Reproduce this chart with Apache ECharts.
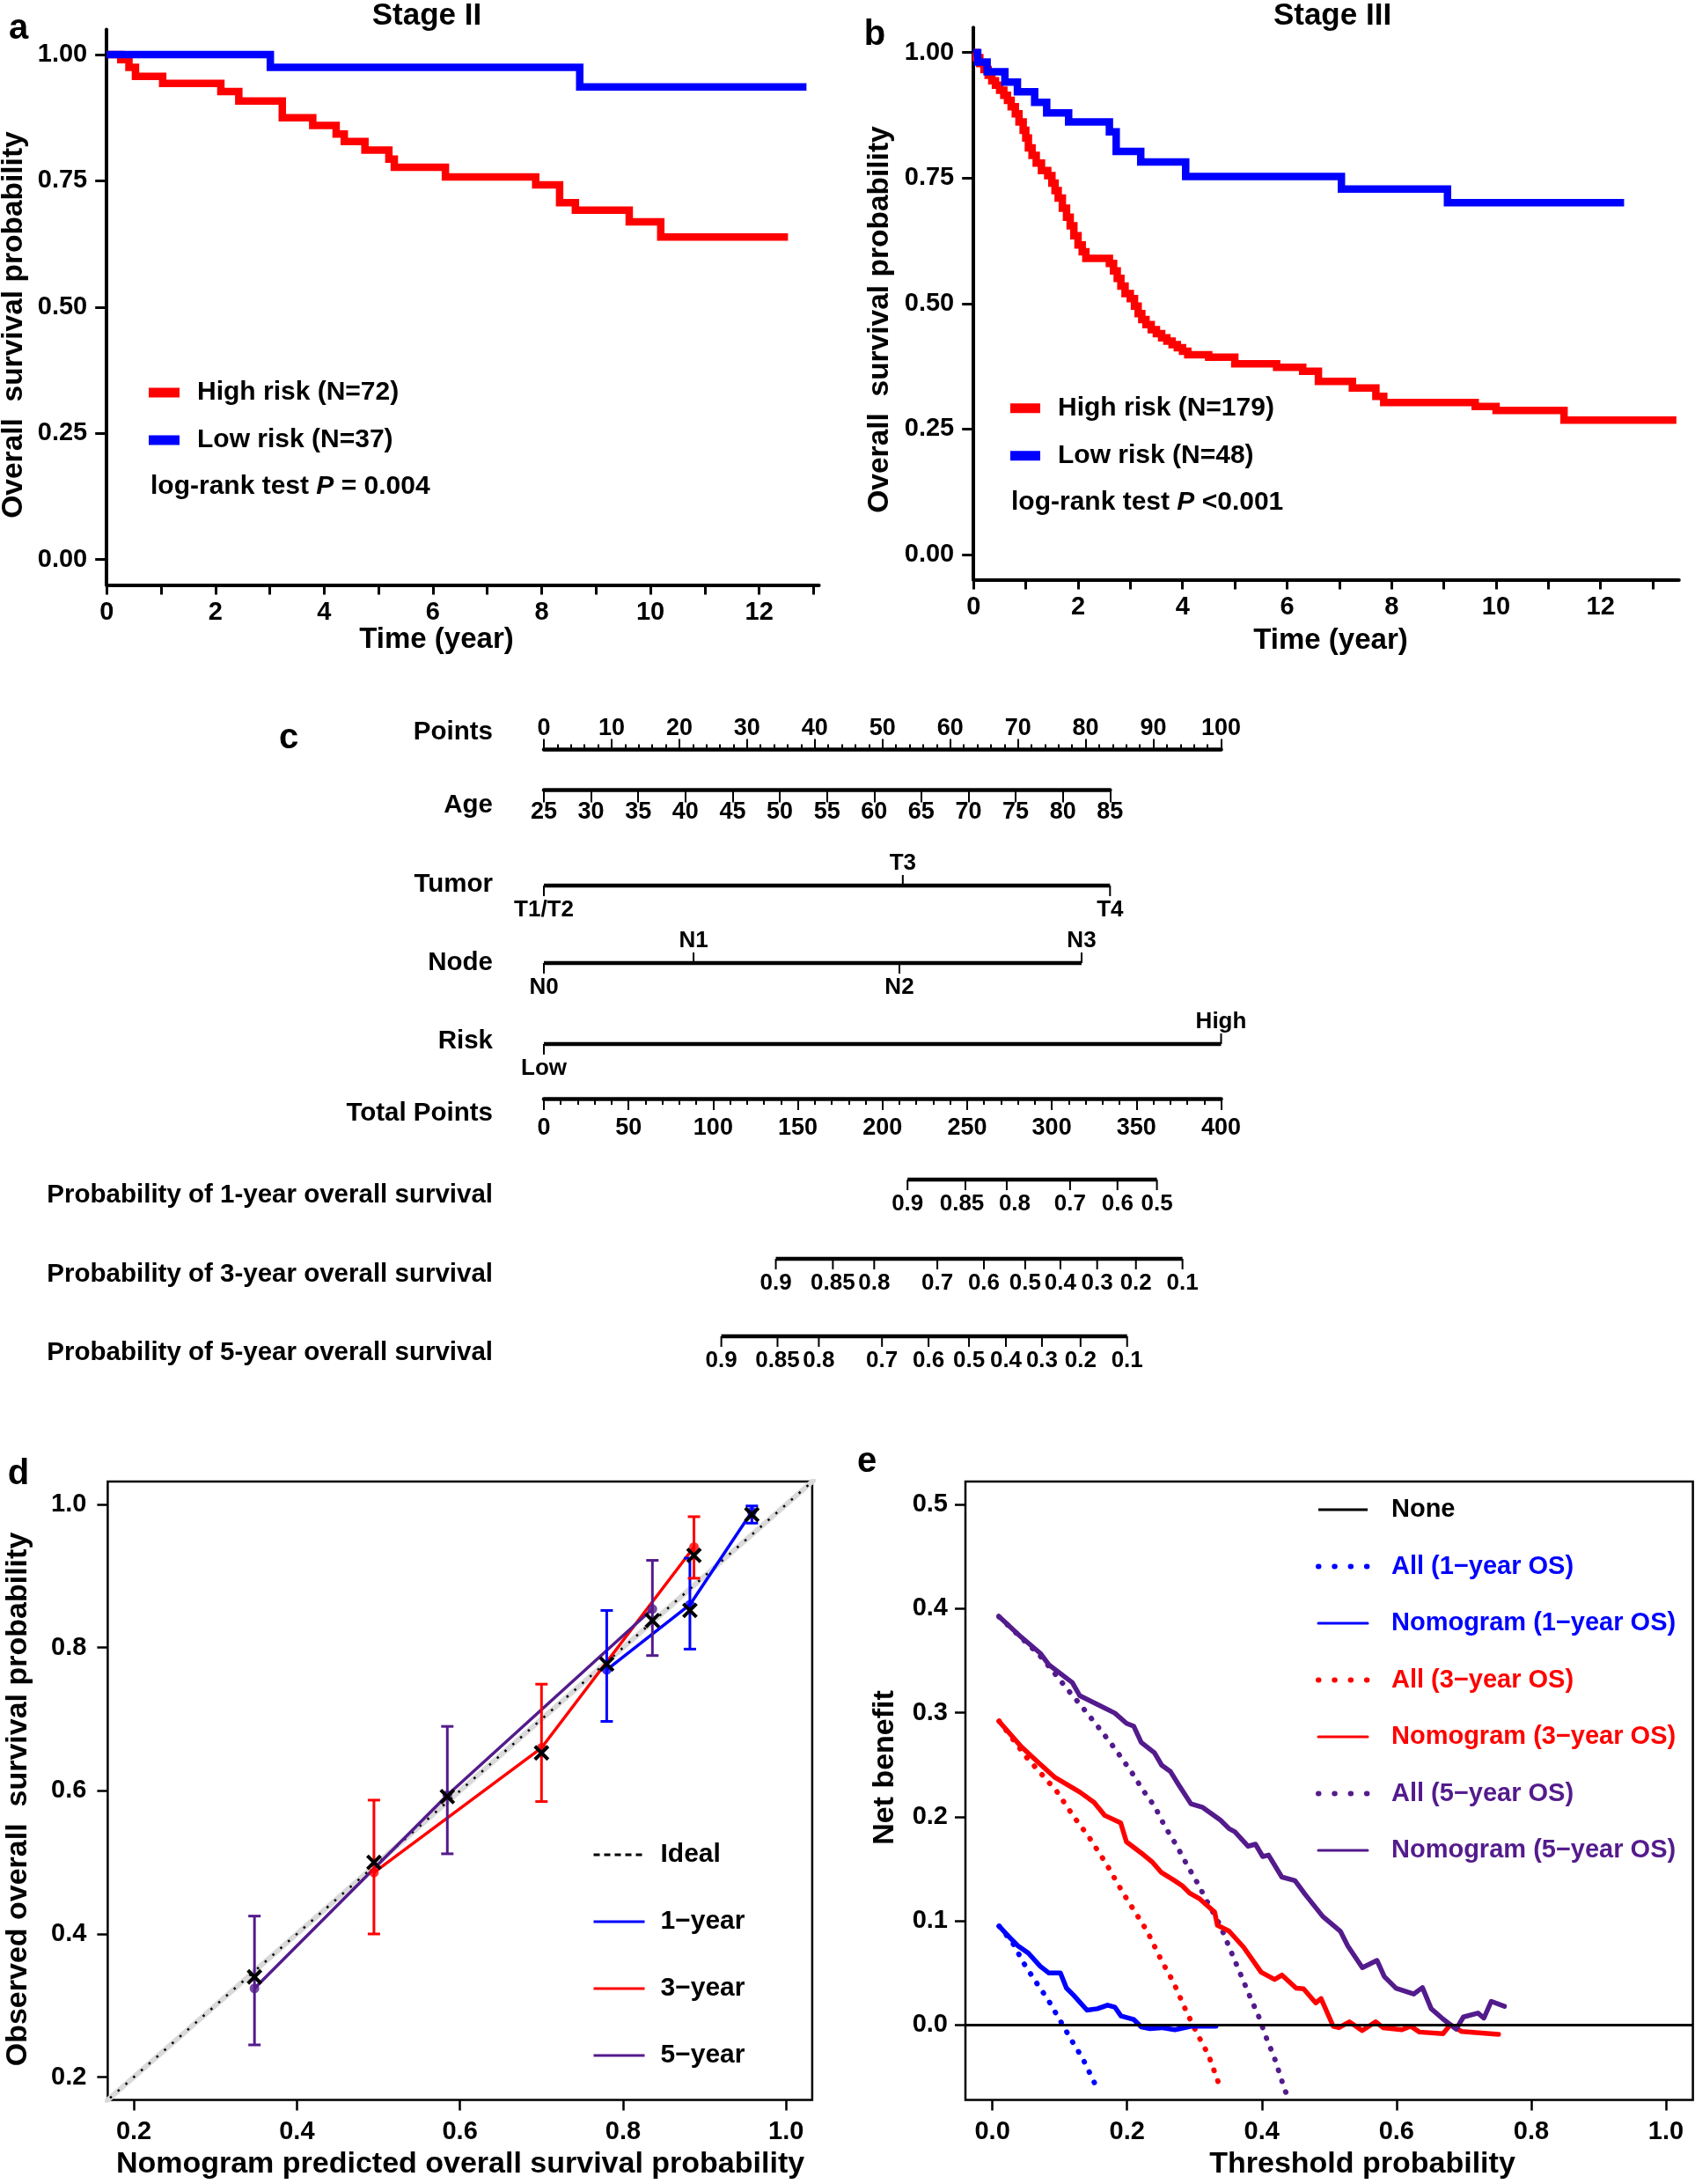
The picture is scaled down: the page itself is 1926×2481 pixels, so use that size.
<!DOCTYPE html>
<html><head><meta charset="utf-8">
<script src="https://cdn.jsdelivr.net/npm/echarts@6/dist/echarts.min.js"></script>
<style>html,body{margin:0;padding:0;background:#fff}#c{width:1926px;height:2481px}</style>
</head><body><div id="c"></div>
<script>
const FONT = "'Liberation Sans', Arial, Helvetica, sans-serif";
const BLUE = '#0000FF', RED = '#FF0000', PURPLE = '#531B8C';

// ---------- Panel a: Stage II ----------
const aHighTime = [0, 0.26, 0.41, 0.53, 1.03, 2.10, 2.43, 3.23, 3.79, 4.22, 4.37, 4.75, 5.19, 5.29, 6.23, 7.89, 8.33, 8.62, 9.61, 10.19, 12.53];
const aHighSurv = [1.0, 0.99, 0.975, 0.957, 0.943, 0.927, 0.908, 0.875, 0.86, 0.843, 0.828, 0.811, 0.793, 0.777, 0.758, 0.742, 0.707, 0.692, 0.669, 0.639, 0.639];
const aLowTime = [0, 3.01, 8.70, 12.87];
const aLowSurv = [1.0, 0.975, 0.936, 0.936];

// ---------- Panel b: Stage III ----------
const bHighTime = [0, 0.05, 0.12, 0.2, 0.28, 0.35, 0.42, 0.5, 0.58, 0.65, 0.72, 0.8, 0.87, 0.95, 1.0, 1.05, 1.12, 1.2, 1.3, 1.42, 1.5, 1.56, 1.62, 1.7, 1.78, 1.85, 1.92, 2.0, 2.08, 2.15, 2.6, 2.68, 2.75, 2.82, 2.9, 3.0, 3.08, 3.15, 3.22, 3.3, 3.4, 3.5, 3.6, 3.7, 3.8, 3.9, 4.0, 4.1, 4.5, 5.0, 5.8, 6.3, 6.6, 7.25, 7.7, 7.85, 9.6, 10.0, 11.3, 13.45];
const bHighSurv = [1.0, 0.99, 0.978, 0.966, 0.955, 0.944, 0.935, 0.925, 0.915, 0.905, 0.892, 0.878, 0.862, 0.845, 0.83, 0.81, 0.795, 0.78, 0.765, 0.755, 0.74, 0.725, 0.71, 0.69, 0.672, 0.655, 0.635, 0.617, 0.603, 0.59, 0.58, 0.565, 0.55, 0.535, 0.52, 0.51, 0.495, 0.48, 0.468, 0.458, 0.448, 0.44, 0.432, 0.425, 0.418, 0.412, 0.405, 0.398, 0.393, 0.38, 0.373, 0.365, 0.345, 0.332, 0.315, 0.303, 0.295, 0.287, 0.268, 0.268];
const bLowTime = [0, 0.08, 0.26, 0.6, 0.84, 1.17, 1.4, 1.82, 2.6, 2.73, 3.2, 4.06, 7.04, 9.07, 12.45];
const bLowSurv = [1.0, 0.981, 0.962, 0.941, 0.922, 0.901, 0.880, 0.862, 0.842, 0.803, 0.782, 0.753, 0.728, 0.701, 0.701];

const kmTickTimes = [0,1,2,3,4,5,6,7,8,9,10,11,12,13];
const kmLabelTimes = [0,2,4,6,8,10,12];
const kmTickSurv = [0, 0.25, 0.5, 0.75, 1.0];

// ---------- Panel c: nomogram ----------
const pointsRange = [0, 100], pointsStep = 10;
const ageRange = [25, 85], ageStep = 5, ageMaxPoints = 83.6;
const tumorLabels = ['T1/T2', 'T3', 'T4'];
const tumorPoints = [0, 53.0, 83.6];
const tumorSide = [1, -1, 1];
const nodeLabels = ['N0', 'N1', 'N2', 'N3'];
const nodePoints = [0, 22.1, 52.5, 79.4];
const nodeSide = [1, -1, 1, -1];
const riskLabels = ['Low', 'High'];
const riskPoints = [0, 100];
const riskSide = [1, -1];
const totalRange = [0, 400], totalStep = 50;
const prob1Labels = ['0.9', '0.85', '0.8', '0.7', '0.6', '0.5'];
const prob1Points = [214.8, 249.0, 273.4, 310.8, 338.8, 362.1];
const prob1Nudge = [0, -4, 9, 0, 0, 0];
const prob3Labels = ['0.9', '0.85', '0.8', '0.7', '0.6', '0.5', '0.4', '0.3', '0.2', '0.1'];
const prob3Points = [137.0, 170.7, 195.1, 232.4, 259.9, 284.3, 305.1, 326.8, 349.7, 377.2];
const prob5Labels = ['0.9', '0.85', '0.8', '0.7', '0.6', '0.5', '0.4', '0.3', '0.2', '0.1'];
const prob5Points = [104.8, 138.0, 162.4, 199.7, 227.2, 251.1, 272.9, 294.2, 317.0, 344.5];

// ---------- Panel d: calibration ----------
const calTicks = [0.2, 0.4, 0.6, 0.8, 1.0];
const idealLine = [[0, 0], [1.2, 1.2]];
const cal1Pred = [0.780, 0.882, 0.958], cal1Obs = [0.769, 0.860, 0.990], cal1Lo = [0.697, 0.798, 0.974], cal1Hi = [0.852, 0.925, 0.998], cal1Corr = [0.777, 0.852, 0.986];
const cal3Pred = [0.4945, 0.700, 0.887], cal3Obs = [0.486, 0.660, 0.9405], cal3Lo = [0.400, 0.585, 0.897], cal3Hi = [0.587, 0.749, 0.983], cal3Corr = [0.500, 0.653, 0.929];
const cal5Pred = [0.348, 0.5845, 0.836], cal5Obs = [0.324, 0.594, 0.854], cal5Lo = [0.245, 0.512, 0.789], cal5Hi = [0.425, 0.690, 0.922], cal5Corr = [0.340, 0.592, 0.838];

// ---------- Panel e: decision curves ----------
const dcaXTicks = [0, 0.2, 0.4, 0.6, 0.8, 1.0];
const dcaYTicks = [0, 0.1, 0.2, 0.3, 0.4, 0.5];
const allOS1 = [[0.010,0.095],[0.030,0.079],[0.047,0.059],[0.064,0.042],[0.083,0.024],[0.100,0.005],[0.117,-0.014],[0.134,-0.032],[0.149,-0.052],[0.157,-0.063]];
const allOS3 = [[0.010,0.292],[0.051,0.257],[0.095,0.225],[0.121,0.200],[0.143,0.181],[0.169,0.155],[0.193,0.128],[0.212,0.1085],[0.230,0.090],[0.251,0.062],[0.269,0.041],[0.288,0.013],[0.303,-0.007],[0.321,-0.029],[0.336,-0.056]];
const allOS5 = [[0.010,0.392],[0.069,0.356],[0.091,0.339],[0.112,0.322],[0.134,0.305],[0.155,0.288],[0.175,0.2715],[0.194,0.2546],[0.212,0.2378],[0.221,0.228],[0.241,0.210],[0.256,0.191],[0.273,0.173],[0.288,0.155],[0.304,0.137],[0.321,0.116],[0.338,0.096],[0.356,0.068],[0.369,0.048],[0.382,0.028],[0.395,0.009],[0.406,-0.011],[0.419,-0.032],[0.434,-0.062],[0.441,-0.0725]];
const nom1 = [[0.010,0.095],[0.025,0.0846],[0.038,0.0761],[0.0535,0.0691],[0.071,0.0565],[0.084,0.050],[0.101,0.050],[0.110,0.0354],[0.121,0.0284],[0.1405,0.0143],[0.156,0.0157],[0.171,0.0191],[0.182,0.0171],[0.191,0.0087],[0.210,0.0053],[0.221,-0.0017],[0.234,-0.0034],[0.251,-0.0025],[0.271,-0.0045],[0.295,-0.0011],[0.332,-0.0011]];
const nom3 = [[0.010,0.2917],[0.043,0.2673],[0.069,0.2518],[0.093,0.2378],[0.130,0.2237],[0.151,0.2139],[0.167,0.2013],[0.1905,0.1942],[0.199,0.176],[0.221,0.1653],[0.238,0.1562],[0.251,0.1465],[0.269,0.1394],[0.282,0.1338],[0.293,0.1267],[0.308,0.1211],[0.330,0.1085],[0.334,0.0959],[0.3515,0.0902],[0.373,0.0748],[0.399,0.0508],[0.419,0.0438],[0.430,0.048],[0.451,0.0354],[0.462,0.0348],[0.480,0.0213],[0.488,0.0255],[0.506,-0.0011],[0.5145,-0.0025],[0.530,0.0031],[0.549,-0.0053],[0.569,0.0031],[0.580,-0.0025],[0.608,-0.0045],[0.621,-0.0011],[0.634,-0.0067],[0.669,-0.0082],[0.680,0.0003],[0.697,-0.0062],[0.7515,-0.009]];
const nom5 = [[0.0094,0.3928],[0.0427,0.3727],[0.071,0.3572],[0.084,0.346],[0.1187,0.329],[0.1297,0.3164],[0.160,0.3067],[0.1819,0.2996],[0.1992,0.2898],[0.210,0.287],[0.221,0.2715],[0.2406,0.2616],[0.2514,0.2496],[0.2645,0.2434],[0.2753,0.2321],[0.2948,0.2125],[0.3123,0.2091],[0.3384,0.197],[0.3515,0.1886],[0.360,0.1857],[0.3797,0.1718],[0.3906,0.1737],[0.4014,0.1619],[0.410,0.1633],[0.4297,0.1422],[0.4493,0.1388],[0.4645,0.1254],[0.4906,0.1043],[0.5166,0.0902],[0.5276,0.0761],[0.5493,0.0551],[0.571,0.0621],[0.5819,0.0466],[0.5993,0.0354],[0.6254,0.0298],[0.6385,0.036],[0.6515,0.0157],[0.6689,0.0059],[0.6885,-0.004],[0.6993,0.0078],[0.721,0.0115],[0.7298,0.0067],[0.7406,0.0228],[0.7602,0.018]];

// ================= build =================
const zip = (xs, ys) => xs.map((x, i) => [x, ys[i]]);
const lbl = (size, extra) => Object.assign({fontSize: size, fontWeight: 'bold', color: '#000', fontFamily: FONT}, extra || {});
const NOMO_LEFT = 618, NOMO_W = 769.5;

const grids = [
  {left: 121.2, top: 33.4, width: 809.4, height: 631},                 // 0 a
  {left: 1106.2, top: 31.2, width: 801.6, height: 627.3},              // 1 b
  {left: NOMO_LEFT, top: 851.5, width: NOMO_W, height: 1},             // 2 points
  {left: NOMO_LEFT, top: 896.5, width: NOMO_W * ageMaxPoints / 100, height: 1}, // 3 age
  {left: NOMO_LEFT, top: 1005, width: NOMO_W, height: 1},              // 4 tumor
  {left: NOMO_LEFT, top: 1093, width: NOMO_W, height: 1},              // 5 node
  {left: NOMO_LEFT, top: 1185, width: NOMO_W, height: 1},              // 6 risk
  {left: NOMO_LEFT, top: 1247, width: NOMO_W, height: 1},              // 7 total
  {left: NOMO_LEFT, top: 1339, width: NOMO_W, height: 1},              // 8 p1
  {left: NOMO_LEFT, top: 1429, width: NOMO_W, height: 1},              // 9 p3
  {left: NOMO_LEFT, top: 1517, width: NOMO_W, height: 1},              // 10 p5
  {left: 122.4, top: 1683.1, width: 800.5, height: 702.5, show: true, borderColor: '#000', borderWidth: 2.5}, // 11 d
  {left: 1097, top: 1683.1, width: 826.6, height: 702.5, show: true, borderColor: '#000', borderWidth: 2.5}   // 12 e
];

const hiddenX = (gi, min, max) => ({gridIndex: gi, type: 'value', min, max, show: false});
const hiddenY = (gi) => ({gridIndex: gi, type: 'value', min: 0, max: 1, show: false});

const kmX = (gi, max) => ({gridIndex: gi, type: 'value', min: 0, max,
  axisLine: {show: true, onZero: false, lineStyle: {color: '#000', width: 4}},
  axisTick: {show: true, customValues: kmTickTimes, length: 11, lineStyle: {color: '#000', width: 3}},
  axisLabel: {customValues: kmLabelTimes, margin: 17, ...lbl(29)},
  splitLine: {show: false}});
const kmY = (gi) => ({gridIndex: gi, type: 'value', min: -0.05, max: 1.05,
  axisLine: {show: true, onZero: false, lineStyle: {color: '#000', width: 4}},
  axisTick: {show: true, customValues: kmTickSurv, length: 13, lineStyle: {color: '#000', width: 3}},
  axisLabel: {customValues: kmTickSurv, formatter: v => v.toFixed(2), margin: 22, ...lbl(29)},
  splitLine: {show: false}});
const nomoAxis = (gi, pos, range, step, tickLen, minorLen, margin) => ({gridIndex: gi, type: 'value', position: pos,
  min: range[0], max: range[1], interval: step,
  axisLine: {show: true, onZero: false, lineStyle: {color: '#000', width: 4.5}},
  axisTick: {show: true, length: tickLen, lineStyle: {color: '#000', width: 2}},
  minorTick: {show: minorLen > 0, splitNumber: 5, length: minorLen, lineStyle: {color: '#000', width: 2}},
  axisLabel: {margin, showMinLabel: true, showMaxLabel: true, ...lbl(27)},
  splitLine: {show: false}, minorSplitLine: {show: false}});
const boxX = (gi, min, max, ticks) => ({gridIndex: gi, type: 'value', min, max,
  axisLine: {show: false, onZero: false},
  axisTick: {show: true, customValues: ticks, length: 12, lineStyle: {color: '#000', width: 2.5}},
  axisLabel: {customValues: ticks, formatter: v => v.toFixed(1), margin: 22, ...lbl(29)},
  splitLine: {show: false}});
const boxY = (gi, min, max, ticks, margin) => ({gridIndex: gi, type: 'value', min, max,
  axisLine: {show: false, onZero: false},
  axisTick: {show: true, customValues: ticks, length: 12, lineStyle: {color: '#000', width: 2.5}},
  axisLabel: {customValues: ticks, formatter: v => v.toFixed(1), margin, ...lbl(29)},
  splitLine: {show: false}});

const xAxes = [
  kmX(0, 13.1), kmX(1, 13.5),
  nomoAxis(2, 'top', pointsRange, pointsStep, 12, 6, 10),
  nomoAxis(3, 'bottom', ageRange, ageStep, 14, 0, 12),
  hiddenX(4, 0, 100), hiddenX(5, 0, 100), hiddenX(6, 0, 100),
  nomoAxis(7, 'bottom', totalRange, totalStep, 13, 7, 20),
  hiddenX(8, 0, 400), hiddenX(9, 0, 400), hiddenX(10, 0, 400),
  boxX(11, 0.168, 1.032, calTicks),
  boxX(12, -0.04, 1.04, dcaXTicks)
];
const yAxes = [
  kmY(0), kmY(1),
  hiddenY(2), hiddenY(3), hiddenY(4), hiddenY(5), hiddenY(6), hiddenY(7), hiddenY(8), hiddenY(9), hiddenY(10),
  boxY(11, 0.168, 1.032, calTicks, 24),
  boxY(12, -0.072, 0.522, dcaYTicks, 20)
];

const km = (name, gi, t, s, color) => ({name, type: 'line', xAxisIndex: gi, yAxisIndex: gi, step: 'end',
  data: zip(t, s), symbol: 'none', color, lineStyle: {color, width: 8.5, join: 'miter'}, z: 3});

function nomoRow(gi, pts, labels, sides, nudge) {
  const lo = Math.min(...pts), hi = Math.max(...pts);
  return {type: 'custom', xAxisIndex: gi, yAxisIndex: gi, silent: true,
    data: pts.map((p, i) => [p, 0, i]),
    renderItem: (params, api) => {
      const i = api.value(2);
      const p = api.coord([api.value(0), 0]);
      const s = sides[i];
      const dx = nudge ? nudge[i] : 0;
      const ch = [
        {type: 'line', shape: {x1: p[0], y1: p[1], x2: p[0], y2: p[1] + s * 12}, style: {stroke: '#000', lineWidth: 2}},
        {type: 'text', style: {text: labels[i], x: p[0] + dx, y: p[1] + (s > 0 ? 27.5 : -25), align: 'center', verticalAlign: 'middle',
          fontSize: 26, fontWeight: 'bold', fontFamily: FONT, fill: '#000'}}
      ];
      if (i === 0) {
        const a = api.coord([lo, 0]), b = api.coord([hi, 0]);
        ch.push({type: 'line', shape: {x1: a[0], y1: a[1], x2: b[0], y2: b[1]}, style: {stroke: '#000', lineWidth: 4.5}});
      }
      return {type: 'group', children: ch};
    }};
}

function errBars(gi, xs, los, his, color) {
  return {type: 'custom', xAxisIndex: gi, yAxisIndex: gi, silent: true, z: 4,
    data: xs.map((x, i) => [x, los[i], his[i]]),
    renderItem: (params, api) => {
      const t = api.coord([api.value(0), api.value(2)]);
      const b = api.coord([api.value(0), api.value(1)]);
      const w = 7, st = {stroke: color, lineWidth: 3};
      return {type: 'group', children: [
        {type: 'line', shape: {x1: t[0], y1: t[1], x2: b[0], y2: b[1]}, style: st},
        {type: 'line', shape: {x1: t[0] - w, y1: t[1], x2: t[0] + w, y2: t[1]}, style: st},
        {type: 'line', shape: {x1: b[0] - w, y1: b[1], x2: b[0] + w, y2: b[1]}, style: st}]};
    }};
}
function crosses(gi, xs, ys) {
  return {type: 'custom', xAxisIndex: gi, yAxisIndex: gi, silent: true, z: 6,
    data: zip(xs, ys),
    renderItem: (params, api) => {
      const p = api.coord([api.value(0), api.value(1)]);
      const s = 7.5, st = {stroke: '#000', lineWidth: 4};
      return {type: 'group', children: [
        {type: 'line', shape: {x1: p[0] - s, y1: p[1] - s, x2: p[0] + s, y2: p[1] + s}, style: st},
        {type: 'line', shape: {x1: p[0] - s, y1: p[1] + s, x2: p[0] + s, y2: p[1] - s}, style: st}]};
    }};
}
const calLine = (name, xs, ys, color) => ({name, type: 'line', xAxisIndex: 11, yAxisIndex: 11, data: zip(xs, ys),
  symbol: 'none', color, lineStyle: {color, width: 3.5}, z: 3});
const calDots = (xs, ys, color) => ({type: 'scatter', xAxisIndex: 11, yAxisIndex: 11, data: zip(xs, ys),
  symbol: 'circle', symbolSize: 11, itemStyle: {color}, z: 5, silent: true});

const DOT = [0.5, 12.5];
const dca = (name, data, color, dotted) => ({name, type: 'line', xAxisIndex: 12, yAxisIndex: 12, data, symbol: 'none', color,
  lineStyle: {color, width: dotted ? 6 : 5.5, type: dotted ? DOT : 'solid', cap: 'round', join: 'round'}, z: dotted ? 3 : 4});

const series = [
  km('High risk (N=72)', 0, aHighTime, aHighSurv, RED),
  km('Low risk (N=37)', 0, aLowTime, aLowSurv, BLUE),
  km('High risk (N=179)', 1, bHighTime, bHighSurv, RED),
  km('Low risk (N=48)', 1, bLowTime, bLowSurv, BLUE),
  nomoRow(4, tumorPoints, tumorLabels, tumorSide),
  nomoRow(5, nodePoints, nodeLabels, nodeSide),
  nomoRow(6, riskPoints, riskLabels, riskSide),
  nomoRow(8, prob1Points, prob1Labels, prob1Points.map(() => 1), prob1Nudge),
  nomoRow(9, prob3Points, prob3Labels, prob3Points.map(() => 1)),
  nomoRow(10, prob5Points, prob5Labels, prob5Points.map(() => 1)),
  {name: 'idealGray', type: 'line', xAxisIndex: 11, yAxisIndex: 11, data: idealLine, symbol: 'none', silent: true,
    lineStyle: {color: '#DADADA', width: 6}, z: 1},
  {name: 'Ideal', type: 'line', xAxisIndex: 11, yAxisIndex: 11, data: idealLine, symbol: 'none', color: '#000',
    lineStyle: {color: '#000', width: 2.5, type: [2.5, 9.2]}, z: 2},
  calLine('1−year', cal1Pred, cal1Obs, BLUE),
  calLine('3−year', cal3Pred, cal3Obs, RED),
  calLine('5−year', cal5Pred, cal5Obs, PURPLE),
  errBars(11, cal1Pred, cal1Lo, cal1Hi, BLUE),
  errBars(11, cal3Pred, cal3Lo, cal3Hi, RED),
  errBars(11, cal5Pred, cal5Lo, cal5Hi, PURPLE),
  calDots(cal1Pred, cal1Obs, BLUE),
  calDots(cal3Pred, cal3Obs, RED),
  calDots(cal5Pred, cal5Obs, PURPLE),
  crosses(11, cal1Pred, cal1Corr),
  crosses(11, cal3Pred, cal3Corr),
  crosses(11, cal5Pred, cal5Corr),
  {name: 'None', type: 'line', xAxisIndex: 12, yAxisIndex: 12, data: [], symbol: 'none', color: '#000',
    lineStyle: {color: '#000', width: 3},
    markLine: {silent: true, symbol: ['none', 'none'], label: {show: false}, lineStyle: {color: '#000', width: 3, type: 'solid'},
      data: [{yAxis: 0}]}, z: 2},
  dca('All (1−year OS)', allOS1, BLUE, true),
  dca('Nomogram (1−year OS)', nom1, BLUE, false),
  dca('All (3−year OS)', allOS3, RED, true),
  dca('Nomogram (3−year OS)', nom3, RED, false),
  dca('All (5−year OS)', allOS5, PURPLE, true),
  dca('Nomogram (5−year OS)', nom5, PURPLE, false)
];

const legTxt = (size, padLeft) => ({fontSize: size, fontWeight: 'bold', fontFamily: FONT, color: '#000', lineHeight: size, padding: [0, 0, 0, padLeft]});
const DOTLEG = {width: 6, type: [0.5, 17.8], cap: 'round'};
const legends = [
  {left: 169, top: 446 - 15, orient: 'vertical', padding: 0, itemGap: 24, itemWidth: 35, itemHeight: 11, icon: 'rect',
    selectedMode: false, textStyle: legTxt(30, 15), data: ['High risk (N=72)', 'Low risk (N=37)']},
  {left: 1148, top: 463.7 - 15, orient: 'vertical', padding: 0, itemGap: 24, itemWidth: 34, itemHeight: 11, icon: 'rect',
    selectedMode: false, textStyle: legTxt(30, 15), data: ['High risk (N=179)', 'Low risk (N=48)']},
  {left: 673, top: 2107 - 15, orient: 'vertical', padding: 0, itemGap: 46, itemWidth: 58, itemHeight: 14,
    itemStyle: {opacity: 0}, selectedMode: false, textStyle: legTxt(30, 13),
    data: [{name: 'Ideal', lineStyle: {type: [7, 5], width: 3}}, {name: '1−year', lineStyle: {width: 3}},
           {name: '3−year', lineStyle: {width: 3}}, {name: '5−year', lineStyle: {width: 3}}]},
  {left: 1495, top: 1715.5 - 15, orient: 'vertical', padding: 0, itemGap: 35.5, itemWidth: 56, itemHeight: 14,
    itemStyle: {opacity: 0}, selectedMode: false, textStyle: legTxt(29, 22),
    data: [
      {name: 'None', textStyle: {color: '#000'}, lineStyle: {width: 3}},
      {name: 'All (1−year OS)', textStyle: {color: BLUE}, lineStyle: DOTLEG},
      {name: 'Nomogram (1−year OS)', textStyle: {color: BLUE}, lineStyle: {width: 3}},
      {name: 'All (3−year OS)', textStyle: {color: RED}, lineStyle: DOTLEG},
      {name: 'Nomogram (3−year OS)', textStyle: {color: RED}, lineStyle: {width: 3}},
      {name: 'All (5−year OS)', textStyle: {color: PURPLE}, lineStyle: DOTLEG},
      {name: 'Nomogram (5−year OS)', textStyle: {color: PURPLE}, lineStyle: {width: 3}}
    ]}
];

const T = (text, x, y, size, o) => {
  o = o || {};
  return {type: 'text', x, y, rotation: o.rot || 0, silent: true, z: 100,
    style: {text, x: 0, y: 0, fontSize: size, fontWeight: 'bold', fontFamily: FONT, fontStyle: o.italic ? 'italic' : 'normal',
      fill: o.color || '#000', align: o.align || 'center', verticalAlign: 'middle'}};
};
const richT = (x, y, pre, post) => ({type: 'text', x, y, silent: true, z: 100,
  style: {text: '{n|' + pre + '}{i|P}{n|' + post + '}', x: 0, y: 0, align: 'left', verticalAlign: 'middle',
    rich: {n: {fontSize: 30, fontWeight: 'bold', fontFamily: FONT, fill: '#000'},
           i: {fontSize: 30, fontWeight: 'bold', fontStyle: 'italic', fontFamily: FONT, fill: '#000'}}}});
const V = Math.PI / 2;
const graphics = [
  T('a', 21, 33, 40), T('b', 994, 40, 40), T('c', 328, 839, 40), T('d', 21, 1675, 40), T('e', 985, 1661, 40),
  T('Stage II', 485, 18, 35), T('Stage III', 1514, 18, 35),
  T('Time (year)', 496, 727, 33), T('Time (year)', 1512, 728, 33),
  T('Overall  survival probability', 16, 369, 33.5, {rot: V}),
  T('Overall  survival probability', 1000, 363, 33.5, {rot: V}),
  richT(171, 553, 'log-rank test ', ' = 0.004'),
  richT(1149, 571, 'log-rank test ', ' <0.001'),
  T('Points', 560, 832, 29.5, {align: 'right'}),
  T('Age', 560, 915, 29.5, {align: 'right'}),
  T('Tumor', 560, 1005, 29.5, {align: 'right'}),
  T('Node', 560, 1093.5, 29.5, {align: 'right'}),
  T('Risk', 560, 1182.5, 29.5, {align: 'right'}),
  T('Total Points', 560, 1265, 29.5, {align: 'right'}),
  T('Probability of 1-year overall survival', 560, 1358, 29.5, {align: 'right'}),
  T('Probability of 3-year overall survival', 560, 1448, 29.5, {align: 'right'}),
  T('Probability of 5-year overall survival', 560, 1537, 29.5, {align: 'right'}),
  T('Nomogram predicted overall survival probability', 523, 2459, 34),
  T('Observed overall  survival probability', 21, 2044, 34, {rot: V}),
  T('Threshold probability', 1548, 2459, 34),
  T('Net benefit', 1006, 2008, 34, {rot: V})
];

const chart = echarts.init(document.getElementById('c'), null, {renderer: 'canvas', width: 1926, height: 2481});
chart.setOption({
  animation: false,
  backgroundColor: '#fff',
  textStyle: {fontFamily: FONT},
  grid: grids, xAxis: xAxes, yAxis: yAxes,
  legend: legends,
  series,
  graphic: graphics
});
</script></body></html>
